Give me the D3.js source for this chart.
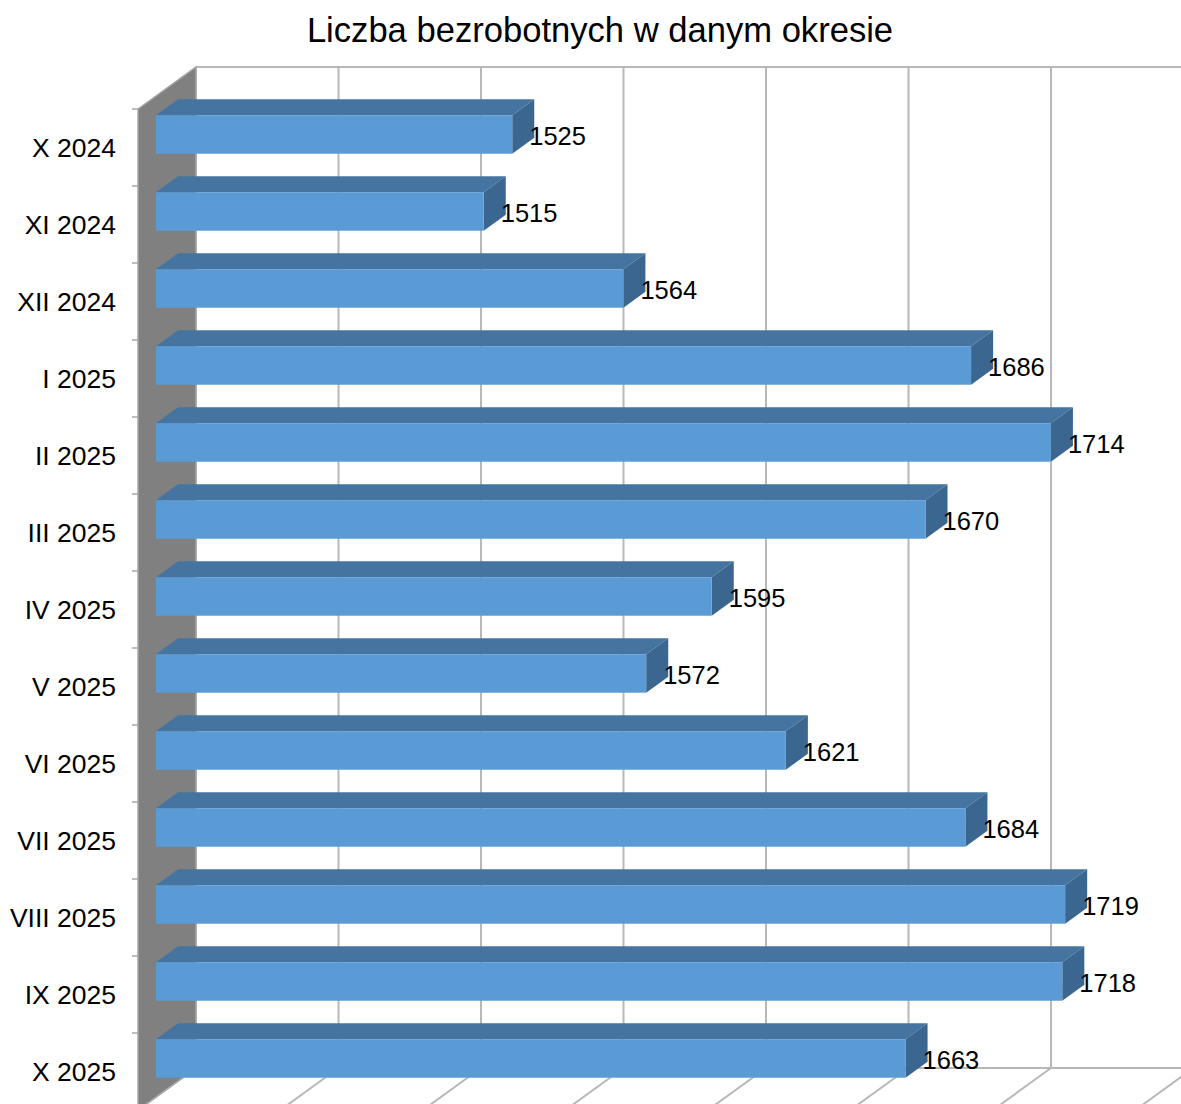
<!DOCTYPE html>
<html>
<head>
<meta charset="utf-8">
<script src="https://cdn.jsdelivr.net/npm/d3@7"></script>
<style>
  body { margin: 0; background: #fff; }
  svg { display: block; font-family: "Liberation Sans", Arial, sans-serif; }
</style>
</head>
<body>
<svg id="chart" width="1181" height="1104"></svg>
<script>
const categories = ["X 2024", "XI 2024", "XII 2024", "I 2025", "II 2025", "III 2025", "IV 2025",
  "V 2025", "VI 2025", "VII 2025", "VIII 2025", "IX 2025", "X 2025"];
const values = [1525, 1515, 1564, 1686, 1714, 1670, 1595, 1572, 1621, 1684, 1719, 1718, 1663];
const gridValues = [1400, 1450, 1500, 1550, 1600, 1650, 1700, 1750];

const svg = d3.select("#chart");

// front plane of the plot box
const x = d3.scaleLinear().domain([1400, 1750]).range([138, 1135.5]);
const y = d3.scaleBand().domain(categories).range([109, 1110])
  .paddingInner(0.5).paddingOuter(0.25);

// depth of the box and of the bars
const depth = { dx: 58, dy: -42 };
const barFront = 0.31, barBack = 0.69;
const off = (f) => [depth.dx * f, depth.dy * f];

const yTop = y.range()[0], yBottom = y.range()[1];
const x0 = x(1400);

// back wall grid
svg.append("g")
  .selectAll("line")
  .data(gridValues)
  .join("line")
  .attr("x1", d => x(d) + depth.dx)
  .attr("x2", d => x(d) + depth.dx)
  .attr("y1", yTop + depth.dy)
  .attr("y2", yBottom + depth.dy)
  .attr("stroke", "#b8b8b8")
  .attr("stroke-width", 2);

svg.append("line")
  .attr("x1", x0 + depth.dx).attr("x2", x(1750) + depth.dx)
  .attr("y1", yTop + depth.dy).attr("y2", yTop + depth.dy)
  .attr("stroke", "#b8b8b8").attr("stroke-width", 2);

// floor
svg.append("line")
  .attr("x1", x0 + depth.dx).attr("x2", x(1750) + depth.dx)
  .attr("y1", yBottom + depth.dy).attr("y2", yBottom + depth.dy)
  .attr("stroke", "#b8b8b8").attr("stroke-width", 2);

svg.append("g")
  .selectAll("line")
  .data(gridValues)
  .join("line")
  .attr("x1", d => x(d) + depth.dx)
  .attr("y1", yBottom + depth.dy)
  .attr("x2", d => x(d))
  .attr("y2", yBottom)
  .attr("stroke", "#b8b8b8")
  .attr("stroke-width", 2);

// left wall
svg.append("polygon")
  .attr("points", [[x0, yTop], [x0 + depth.dx, yTop + depth.dy],
    [x0 + depth.dx, yBottom + depth.dy], [x0, yBottom]].join(" "))
  .attr("fill", "#808080")
  .attr("stroke", "#a6a6a6")
  .attr("stroke-width", 1.5);

// category ticks
svg.append("g")
  .selectAll("line")
  .data(d3.range(categories.length + 1))
  .join("line")
  .attr("x1", x0 - 6).attr("x2", x0)
  .attr("y1", i => yTop + i * y.step())
  .attr("y2", i => yTop + i * y.step())
  .attr("stroke", "#a6a6a6")
  .attr("stroke-width", 1.5);

// category labels
svg.append("g")
  .selectAll("text")
  .data(categories)
  .join("text")
  .attr("x", 116)
  .attr("y", d => y(d) + y.bandwidth() / 2)
  .attr("dy", "0.35em")
  .attr("text-anchor", "end")
  .attr("font-size", 26.5)
  .attr("fill", "#000")
  .text(d => d);

// bars
const [fx, fy] = off(barFront);
const [bx, by] = off(barBack);
const bars = svg.append("g")
  .selectAll("g")
  .data(categories.map((c, i) => ({ c, v: values[i] })))
  .join("g");

bars.append("polygon") // top face
  .attr("points", d => {
    const y1 = y(d.c), xr = x(d.v);
    return [[x0 + fx, y1 + fy], [xr + fx, y1 + fy], [xr + bx, y1 + by], [x0 + bx, y1 + by]].join(" ");
  })
  .attr("fill", "#44749f");

bars.append("polygon") // side face
  .attr("points", d => {
    const y1 = y(d.c), y2 = y1 + y.bandwidth(), xr = x(d.v);
    return [[xr + fx, y1 + fy], [xr + bx, y1 + by], [xr + bx, y2 + by], [xr + fx, y2 + fy]].join(" ");
  })
  .attr("fill", "#3b6690");

bars.append("rect") // front face
  .attr("x", x0 + fx)
  .attr("y", d => y(d.c) + fy)
  .attr("width", d => x(d.v) - x0)
  .attr("height", y.bandwidth())
  .attr("fill", "#5b9bd5");

bars.append("text")
  .attr("x", d => x(d.v) + fx + 17)
  .attr("y", d => y(d.c) + fy + y.bandwidth() / 2 + 2)
  .attr("dy", "0.35em")
  .attr("font-size", 25.5)
  .attr("fill", "#000")
  .text(d => d.v);

// title
svg.append("text")
  .attr("x", 600)
  .attr("y", 42)
  .attr("text-anchor", "middle")
  .attr("font-size", 34.6)
  .attr("fill", "#000")
  .text("Liczba bezrobotnych w danym okresie");
</script>
</body>
</html>
